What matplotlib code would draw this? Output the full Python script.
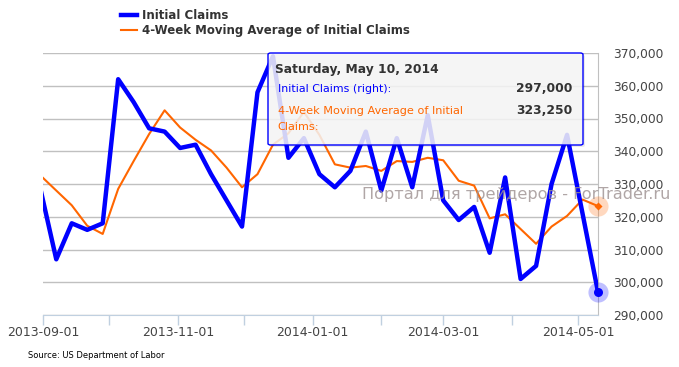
import numpy as np
import pandas as pd
import matplotlib
matplotlib.use("Agg")
import matplotlib.pyplot as plt
import matplotlib.dates as mdates
from matplotlib.ticker import FuncFormatter
from matplotlib.patches import FancyBboxPatch
from matplotlib.lines import Line2D

# weekly initial jobless claims (week ending Saturday)
weeks = ["2013-08-31", "2013-09-07", "2013-09-14", "2013-09-21", "2013-09-28",
         "2013-10-05", "2013-10-12", "2013-10-19", "2013-10-26", "2013-11-02",
         "2013-11-09", "2013-11-16", "2013-11-23", "2013-11-30", "2013-12-07",
         "2013-12-14", "2013-12-21", "2013-12-28", "2014-01-04", "2014-01-11",
         "2014-01-18", "2014-01-25", "2014-02-01", "2014-02-08", "2014-02-15",
         "2014-02-22", "2014-03-01", "2014-03-08", "2014-03-15", "2014-03-22",
         "2014-03-29", "2014-04-05", "2014-04-12", "2014-04-19", "2014-04-26",
         "2014-05-03", "2014-05-10"]
claims = [328000, 307000, 318000, 316000, 318000, 362000, 355000, 347000, 346000,
          341000, 342000, 333000, 325000, 317000, 358000, 369000, 338000, 344000,
          333000, 329000, 334000, 346000, 328000, 344000, 329000, 351000, 325000,
          319000, 323000, 309000, 332000, 301000, 305000, 330000, 345000, 321000,
          297000]
claims_4wk = [332500, 328000, 323500, 317250, 314750, 328500, 337000, 345250, 352500,
              347250, 343500, 340250, 335000, 329000, 333000, 342000, 345500, 352000,
              345000, 336000, 335000, 335500, 334000, 337000, 336750, 338000, 337250,
              331000, 329500, 319500, 320750, 316250, 311750, 317000, 320250, 325250,
              323250]

BLUE = "#0000FF"
ORANGE = "#FF6600"
W, H = 679, 367


def px(x, y):
    # pixel position (from top-left) -> figure fraction
    return x / W, 1 - y / H


dates = pd.to_datetime(weeks)

fig = plt.figure(figsize=(W / 100, H / 100), dpi=100)
ax = fig.add_axes([43 / W, 52 / H, 555 / W, 262 / H])

ax.plot(dates, claims_4wk, color=ORANGE, lw=1.5, zorder=3, solid_joinstyle="round")
ax.plot(dates, claims, color=BLUE, lw=3.2, zorder=4, solid_joinstyle="round")

# hover markers on the last point
ax.plot(dates[-1], claims[-1], "o", ms=14.5, color=BLUE, alpha=0.25, mec="none", clip_on=False, zorder=5)
ax.plot(dates[-1], claims[-1], "o", ms=6.5, color=BLUE, mec="none", clip_on=False, zorder=6)
ax.plot(dates[-1], claims_4wk[-1], "o", ms=14.5, color=ORANGE, alpha=0.25, mec="none", clip_on=False, zorder=5)
ax.plot(dates[-1], claims_4wk[-1], "D", ms=4.5, color=ORANGE, mec="none", clip_on=False, zorder=6)

ax.set_xlim(pd.Timestamp("2013-09-01"), pd.Timestamp("2014-05-10"))
ax.set_ylim(290000, 370000)
ax.set_yticks(np.arange(290000, 370001, 10000))
ax.yaxis.tick_right()
ax.yaxis.set_major_formatter(FuncFormatter(lambda v, _: f"{int(v):,}"))
ax.yaxis.grid(True, color="#C0C0C0", lw=1)
ax.set_axisbelow(True)

ax.xaxis.set_major_locator(mdates.MonthLocator(bymonth=[1, 3, 5, 9, 11]))
ax.xaxis.set_minor_locator(mdates.MonthLocator(bymonth=[2, 4, 10, 12]))
ax.xaxis.set_major_formatter(mdates.DateFormatter("%Y-%m-%d"))

ax.tick_params(axis="y", length=0, pad=11, labelsize=8.8, labelcolor="#444444")
ax.tick_params(axis="x", which="both", length=7.2, width=1, color="#C0D0E0",
               pad=1, labelsize=9, labelcolor="#444444")

for s in ["top", "left"]:
    ax.spines[s].set_visible(False)
ax.spines["right"].set_color("#C0C0C0")
ax.spines["bottom"].set_color("#C0D0E0")

# legend
handles = [Line2D([], [], color=BLUE, lw=3.2), Line2D([], [], color=ORANGE, lw=1.5)]
fig.legend(handles, ["Initial Claims", "4-Week Moving Average of Initial Claims"],
           loc="upper left", bbox_to_anchor=px(115, 3), frameon=False, borderpad=0,
           handlelength=1.35, handletextpad=0.42, labelspacing=0.15,
           prop={"weight": "bold", "size": 8.5}, labelcolor="#333333")

# tooltip
x0, y0 = px(268, 145)
x1, y1 = px(583, 53)
shadow = FancyBboxPatch((x0 + 2 / W, y0 - 2 / H), x1 - x0, y1 - y0, boxstyle="round,pad=0,rounding_size=0.004",
                        transform=fig.transFigure, facecolor="#000000", alpha=0.08, edgecolor="none", zorder=8)
box = FancyBboxPatch((x0, y0), x1 - x0, y1 - y0, boxstyle="round,pad=0,rounding_size=0.004",
                     transform=fig.transFigure, facecolor=(0.97, 0.97, 0.97, 0.85), edgecolor=BLUE, lw=1, zorder=9)
fig.patches.extend([shadow, box])

fig.text(*px(275, 70), "Saturday, May 10, 2014", fontsize=8.8, weight="bold", color="#333333", va="center", zorder=10)
fig.text(*px(278, 89), "Initial Claims (right):", fontsize=7.9, color=BLUE, va="center", zorder=10)
fig.text(*px(572, 89), f"{claims[-1]:,}", fontsize=8.8, weight="bold", color="#333333", va="center", ha="right", zorder=10)
fig.text(*px(278, 111), "4-Week Moving Average of Initial", fontsize=8.1, color=ORANGE, va="center", zorder=10)
fig.text(*px(277, 127), "Claims:", fontsize=8.1, color=ORANGE, va="center", zorder=10)
fig.text(*px(572, 111), f"{claims_4wk[-1]:,}", fontsize=8.8, weight="bold", color="#333333", va="center", ha="right", zorder=10)

# watermark
fig.text(*px(362, 195), "Портал для трейдеров - ForTrader.ru", fontsize=11.6, color="#9C9090",
         alpha=0.8, va="center", zorder=7)

fig.text(*px(28, 356), "Source: US Department of Labor", fontsize=6, color="#000000", va="center")

plt.savefig("out.png", dpi=100)
